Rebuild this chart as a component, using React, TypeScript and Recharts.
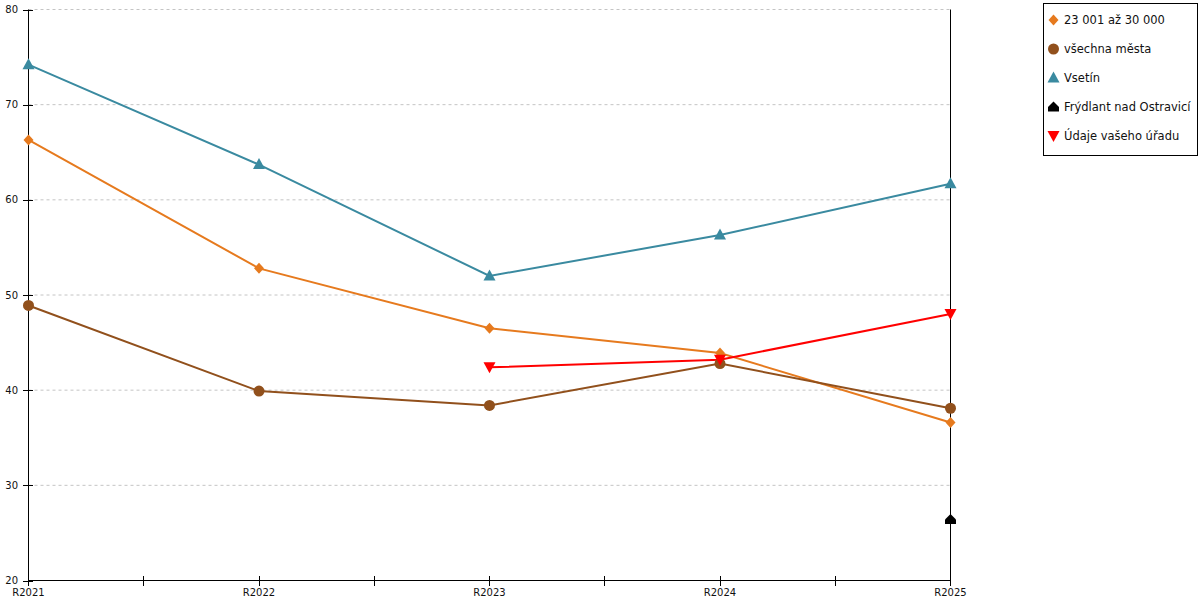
import React from 'react';
import { LineChart, Line, XAxis, YAxis, CartesianGrid, ReferenceLine } from 'recharts';

const categories = ['R2021', 'R2022', 'R2023', 'R2024', 'R2025'];
const group23to30: (number | null)[] = [66.3, 52.8, 46.5, 43.9, 36.6];
const allCities: (number | null)[] = [48.9, 39.9, 38.4, 42.8, 38.1];
const vsetin: (number | null)[] = [74.2, 63.7, 52.0, 56.3, 61.7];
const frydlant: (number | null)[] = [null, null, null, null, 26.4];
const office: (number | null)[] = [null, null, 42.4, 43.2, 48.0];
const yTicks = [20, 30, 40, 50, 60, 70, 80];
const xTicks = [0, 0.5, 1, 1.5, 2, 2.5, 3, 3.5, 4];

const seriesNames = ['23 001 až 30 000', 'všechna města', 'Vsetín', 'Frýdlant nad Ostravicí', 'Údaje vašeho úřadu'];

const data = categories.map((c, i) => ({
  idx: i,
  name: c,
  a: group23to30[i],
  b: allCities[i],
  c: vsetin[i],
  d: frydlant[i],
  e: office[i],
}));

const ORANGE = '#E67A1E';
const BROWN = '#91501C';
const TEAL = '#3A8AA0';
const BLACK = '#000000';
const RED = '#FF0000';
const FONT = 'DejaVu Sans, Verdana, sans-serif';

type Shape = 'diamond' | 'circle' | 'triangle' | 'house' | 'down';

function marker(shape: Shape, cx: number, cy: number, color: string) {
  switch (shape) {
    case 'diamond':
      return <path d={`M${cx},${cy - 5.5}L${cx + 5},${cy}L${cx},${cy + 5.5}L${cx - 5},${cy}Z`} fill={color} />;
    case 'circle':
      return <circle cx={cx} cy={cy} r={5.5} fill={color} />;
    case 'triangle':
      return <path d={`M${cx},${cy - 6.5}L${cx + 6},${cy + 4.5}L${cx - 6},${cy + 4.5}Z`} fill={color} />;
    case 'house':
      return <path d={`M${cx},${cy - 5.5}L${cx + 5.5},${cy}L${cx + 5.5},${cy + 4.5}L${cx - 5.5},${cy + 4.5}L${cx - 5.5},${cy}Z`} fill={color} />;
    case 'down':
      return <path d={`M${cx - 6},${cy - 5}L${cx + 6},${cy - 5}L${cx},${cy + 6}Z`} fill={color} />;
  }
}

const makeDot = (shape: Shape, color: string) => (props: any) => {
  const { cx, cy, index, value } = props;
  if (cy == null || value == null || isNaN(cy)) return <g key={`e-${index}`} />;
  return <g key={`d-${index}`}>{marker(shape, cx, cy, color)}</g>;
};

const YTick = (props: any) => {
  const { y, payload } = props;
  const yy = Math.round(y) + 0.5;
  return (
    <g>
      <line x1={23} x2={33} y1={yy} y2={yy} stroke="#000" strokeWidth={1} />
      <text x={18} y={y} dy="0.36em" textAnchor="end" fontSize={10} fontFamily={FONT} fill="#111">
        {payload.value}
      </text>
    </g>
  );
};

const XTick = (props: any) => {
  const { x, payload } = props;
  const v = payload.value as number;
  const isInt = Math.abs(v - Math.round(v)) < 1e-6;
  const xx = Math.floor(x) + 0.5;
  return (
    <g>
      <line x1={xx} x2={xx} y1={576} y2={586} stroke="#000" strokeWidth={1} />
      {isInt ? (
        <text x={x} y={588} dy="0.75em" textAnchor="middle" fontSize={10} fontFamily={FONT} fill="#111">
          {categories[Math.round(v)]}
        </text>
      ) : null}
    </g>
  );
};

const legendItems: { name: string; shape: Shape; color: string }[] = [
  { name: seriesNames[0], shape: 'diamond', color: ORANGE },
  { name: seriesNames[1], shape: 'circle', color: BROWN },
  { name: seriesNames[2], shape: 'triangle', color: TEAL },
  { name: seriesNames[3], shape: 'house', color: BLACK },
  { name: seriesNames[4], shape: 'down', color: RED },
];

export default function App() {
  return (
    <div style={{ position: 'absolute', left: 0, top: 0, width: 1200, height: 600, background: '#fff', fontFamily: FONT }}>
      <LineChart width={1200} height={600} data={data} margin={{ top: 9.5, right: 249.5, bottom: 0, left: 0 }}>
        <CartesianGrid vertical={false} horizontal stroke="#c4c4c4" strokeDasharray="3 3" />
        <XAxis
          dataKey="idx"
          type="number"
          domain={[0, 4]}
          ticks={xTicks}
          interval={0}
          height={19.5}
          tickLine={false}
          axisLine={{ stroke: '#000' }}
          tick={<XTick />}
        />
        <YAxis
          type="number"
          domain={[20, 80]}
          ticks={yTicks}
          width={28.5}
          tickLine={false}
          axisLine={{ stroke: '#000' }}
          tick={<YTick />}
        />
        <Line dataKey="a" name={seriesNames[0]} stroke={ORANGE} strokeWidth={2} dot={makeDot('diamond', ORANGE)} activeDot={false} isAnimationActive={false} />
        <Line dataKey="b" name={seriesNames[1]} stroke={BROWN} strokeWidth={2} dot={makeDot('circle', BROWN)} activeDot={false} isAnimationActive={false} />
        <Line dataKey="c" name={seriesNames[2]} stroke={TEAL} strokeWidth={2} dot={makeDot('triangle', TEAL)} activeDot={false} isAnimationActive={false} />
        <Line dataKey="d" name={seriesNames[3]} stroke={BLACK} strokeWidth={2} dot={makeDot('house', BLACK)} activeDot={false} isAnimationActive={false} />
        <Line dataKey="e" name={seriesNames[4]} stroke={RED} strokeWidth={2} dot={makeDot('down', RED)} activeDot={false} isAnimationActive={false} />
        <ReferenceLine x={4} stroke="#000" strokeWidth={1} />
      </LineChart>
      <div
        style={{
          position: 'absolute',
          left: 1043,
          top: 3,
          width: 153,
          height: 151,
          border: '1px solid #000',
          background: '#fff',
          boxSizing: 'content-box',
        }}
      >
        {legendItems.map((it, i) => (
          <div key={it.name} style={{ position: 'absolute', left: 0, top: 7 + i * 29, height: 18, display: 'flex', alignItems: 'center' }}>
            <svg width={20} height={18}>
              {marker(it.shape, 9.5, 9, it.color)}
            </svg>
            <span style={{ fontSize: 11.5, color: '#111', whiteSpace: 'nowrap' }}>{it.name}</span>
          </div>
        ))}
      </div>
    </div>
  );
}
